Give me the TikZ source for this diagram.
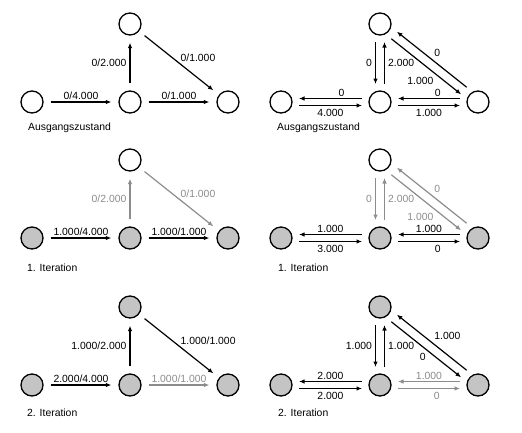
\documentclass[tikz,border=0pt]{standalone}
\usepackage{fontspec}
\setmainfont{Liberation Sans}
\usetikzlibrary{arrows.meta,calc}

\begin{document}
\begin{tikzpicture}
  [x=1pt,y=-1pt,font=\fontsize{10.4}{12}\selectfont,
   state/.style={circle,draw,line width=1.3pt,minimum size=22pt,inner sep=0pt},
   full/.style={state,fill=black!23},
   flow/.style={-{Latex[length=5.5pt,width=4.5pt]},line width=1.2pt,shorten <=7pt,shorten >=7pt},
   pair/.style={flow,shorten <=18pt,shorten >=18pt,
     to path={($(\tikztostart)!#1!-90:(\tikztotarget)$) -- ($(\tikztotarget)!#1!90:(\tikztostart)$) \tikztonodes}},
   pair/.default=3.5pt,
   dim/.style={color=black!45},
   lab/.style={inner sep=1.5pt}]
  \useasboundingbox (0,0) rectangle (522,432);

  % Ausgangszustand
  \node[state] (a1) at (32,102)  {};
  \node[state] (a2) at (130,102) {};
  \node[state] (a3) at (228,102) {};
  \node[state] (a4) at (130,24)  {};
  \node[anchor=west,inner sep=0pt] (a5) at (28,128) {Ausgangszustand};
  \draw[flow] (a1) -- node[above,lab] {0/4.000} (a2);
  \draw[flow] (a2) -- node[above,lab] {0/1.000} (a3);
  \draw[flow] (a2) -- node[left,inner sep=3pt] {0/2.000} (a4);
  \draw[flow] (a4) -- node[above right,inner sep=1pt] {0/1.000} (a3);

  \node[state] (b1) at (281,102) {};
  \node[state] (b2) at (380,102) {};
  \node[state] (b3) at (478,102) {};
  \node[state] (b4) at (380,24)  {};
  \node[anchor=west,inner sep=0pt] (b5) at (277,128) {Ausgangszustand};
  \draw[pair] (b2) to node[pos=.39,above,lab] {0} (b1);
  \draw[pair] (b1) to node[below,inner sep=3.5pt] {4.000} (b2);
  \draw[pair] (b3) to node[pos=.41,above,lab] {0} (b2);
  \draw[pair] (b2) to node[below,inner sep=3.5pt] {1.000} (b3);
  \draw[pair=4.5pt] (b4) to node[left,inner sep=3pt] {0} (b2);
  \draw[pair=4.5pt] (b2) to node[right,inner sep=3pt] {2.000} (b4);
  \draw[pair=4.5pt] (b3) to node[above right,inner sep=2pt] {0} (b4);
  \draw[pair=4.5pt] (b4) to node[pos=.6,below left,inner sep=2pt] {1.000} (b3);

  % 1. Iteration
  \node[full]  (c1) at (32,238)  {};
  \node[full]  (c2) at (130,238) {};
  \node[full]  (c3) at (228,238) {};
  \node[state] (c4) at (130,160) {};
  \node[anchor=west,inner sep=0pt] (c5) at (27,268) {1. Iteration};
  \draw[flow] (c1) -- node[above,lab] {1.000/4.000} (c2);
  \draw[flow] (c2) -- node[above,lab] {1.000/1.000} (c3);
  \draw[flow,dim] (c2) -- node[left,inner sep=3pt] {0/2.000} (c4);
  \draw[flow,dim] (c4) -- node[above right,inner sep=1pt] {0/1.000} (c3);

  \node[full]  (d1) at (281,238) {};
  \node[full]  (d2) at (380,238) {};
  \node[full]  (d3) at (478,238) {};
  \node[state] (d4) at (380,160) {};
  \node[anchor=west,inner sep=0pt] (d5) at (278,268) {1. Iteration};
  \draw[pair] (d2) to node[above,lab] {1.000} (d1);
  \draw[pair] (d1) to node[below,inner sep=3.5pt] {3.000} (d2);
  \draw[pair] (d3) to node[above,lab] {1.000} (d2);
  \draw[pair] (d2) to node[pos=.59,below,inner sep=3.5pt] {0} (d3);
  \draw[pair=4.5pt,dim] (d4) to node[left,inner sep=3pt] {0} (d2);
  \draw[pair=4.5pt,dim] (d2) to node[right,inner sep=3pt] {2.000} (d4);
  \draw[pair=4.5pt,dim] (d3) to node[above right,inner sep=2pt] {0} (d4);
  \draw[pair=4.5pt,dim] (d4) to node[pos=.6,below left,inner sep=2pt] {1.000} (d3);

  % 2. Iteration
  \node[full] (e1) at (32,385)  {};
  \node[full] (e2) at (130,385) {};
  \node[full] (e3) at (228,385) {};
  \node[full] (e4) at (130,307) {};
  \node[anchor=west,inner sep=0pt] (e5) at (27,413) {2. Iteration};
  \draw[flow] (e1) -- node[above,lab] {2.000/4.000} (e2);
  \draw[flow,dim] (e2) -- node[above,lab] {1.000/1.000} (e3);
  \draw[flow] (e2) -- node[left,inner sep=3pt] {1.000/2.000} (e4);
  \draw[flow] (e4) -- node[above right,inner sep=1pt] {1.000/1.000} (e3);

  \node[full] (f1) at (281,385) {};
  \node[full] (f2) at (380,385) {};
  \node[full] (f3) at (478,385) {};
  \node[full] (f4) at (380,307) {};
  \node[anchor=west,inner sep=0pt] (f5) at (278,413) {2. Iteration};
  \draw[pair] (f2) to node[above,lab] {2.000} (f1);
  \draw[pair] (f1) to node[below,inner sep=3.5pt] {2.000} (f2);
  \draw[pair,dim] (f3) to node[above,lab] {1.000} (f2);
  \draw[pair,dim] (f2) to node[pos=.58,below,inner sep=3.5pt] {0} (f3);
  \draw[pair=4.5pt] (f4) to node[left,inner sep=3pt] {1.000} (f2);
  \draw[pair=4.5pt] (f2) to node[right,inner sep=3pt] {1.000} (f4);
  \draw[pair=4.5pt] (f3) to node[above right,inner sep=2pt] {1.000} (f4);
  \draw[pair=4.5pt] (f4) to node[pos=.52,below left,inner sep=2pt] {0} (f3);
\end{tikzpicture}
\end{document}
